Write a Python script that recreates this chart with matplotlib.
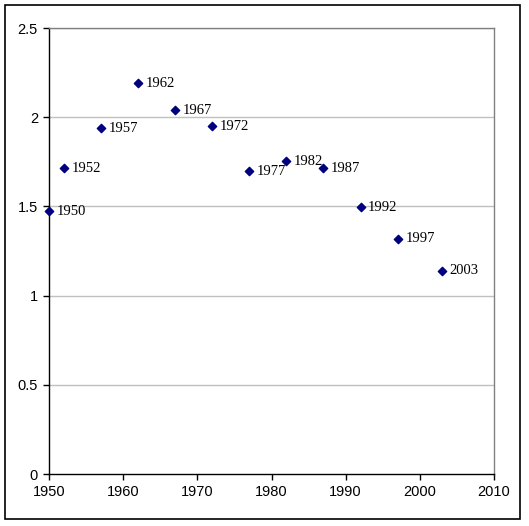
import matplotlib
matplotlib.use("Agg")
import matplotlib.pyplot as plt
from matplotlib.patches import Rectangle

years = [1950, 1952, 1957, 1962, 1967, 1972, 1977, 1982, 1987, 1992, 1997, 2003]
values = [1.472, 1.713, 1.938, 2.191, 2.039, 1.949, 1.697, 1.753, 1.713, 1.494, 1.320, 1.140]
labels = [str(y) for y in years]
xticks = [1950, 1960, 1970, 1980, 1990, 2000, 2010]
yticks = [0, 0.5, 1, 1.5, 2, 2.5]

W, H = 529, 526
fig = plt.figure(figsize=(W / 100, H / 100), dpi=100)
fig.patch.set_facecolor("white")
fig.patches.append(Rectangle((5 / W, 1 - 519 / H), 515 / W, 514 / H,
                             transform=fig.transFigure, fill=False,
                             edgecolor="black", linewidth=1.2))

left, right, top, bottom = 49, 494, 28, 474
ax = fig.add_axes([left / W, 1 - bottom / H, (right - left) / W, (bottom - top) / H])
ax.set_xlim(1950, 2010)
ax.set_ylim(0, 2.5)
ax.set_xticks(xticks)
ax.set_yticks(yticks)
ax.set_yticklabels(["0", "0.5", "1", "1.5", "2", "2.5"])
for y in yticks[1:]:
    ax.axhline(y, color="#c0c0c0", linewidth=1, zorder=0)
for s in ["top", "right"]:
    ax.spines[s].set_color("#808080")
    ax.spines[s].set_linewidth(1)
for s in ["left", "bottom"]:
    ax.spines[s].set_color("black")
    ax.spines[s].set_linewidth(1)
ax.tick_params(direction="out", length=4, width=1, colors="black",
               labelsize=10.5, pad=4)
for t in ax.get_xticklabels() + ax.get_yticklabels():
    t.set_family(["Liberation Sans", "DejaVu Sans"])

ax.scatter(years, values, marker="D", s=18, color="#000080", zorder=3, clip_on=False)
for x, y, lab in zip(years, values, labels):
    ax.annotate(lab, (x, y), xytext=(5.5, 0), textcoords="offset points",
                ha="left", va="center", fontsize=10.5,
                family=["Liberation Serif", "DejaVu Serif"], color="black")

fig.savefig("out.png", dpi=100)
